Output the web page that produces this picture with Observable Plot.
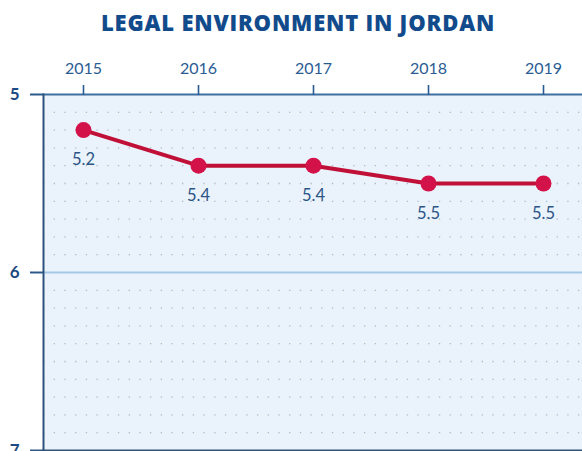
<!DOCTYPE html>
<html>
<head>
<meta charset="utf-8">
<script src="https://cdn.jsdelivr.net/npm/d3@7"></script>
<script src="https://cdn.jsdelivr.net/npm/@observablehq/plot@0.6"></script>
<style>
  html, body { margin: 0; padding: 0; background: #ffffff; }
  #title { height: 40px; font-family: "Open Sans", Lato, sans-serif; font-weight: 800; font-size: 22px; color: #124b8c; text-align: center; line-height: 44px; letter-spacing: 0.8px; padding-left: 14px; }
</style>
</head>
<body>
<div id="title">LEGAL ENVIRONMENT IN JORDAN</div>
<div id="chart"></div>
<script>
const years = [2015, 2016, 2017, 2018, 2019];
const scores = [5.2, 5.4, 5.4, 5.5, 5.5];
const yTicks = [5, 6, 7];
const dotGrid = [5.1, 5.2, 5.3, 5.4, 5.5, 5.6, 5.7, 5.8, 5.9, 6.1, 6.2, 6.3, 6.4, 6.5, 6.6, 6.7, 6.8, 6.9];

const data = years.map((y, i) => ({year: y, score: scores[i]}));

const chart = Plot.plot({
  width: 582,
  height: 411,
  marginLeft: 43,
  marginRight: 0,
  marginTop: 54,
  marginBottom: 1,
  style: {fontFamily: "Lato, 'Open Sans', sans-serif", background: "transparent"},
  x: {domain: [2015, 2019], range: [83, 543]},
  y: {domain: [5, 7], reverse: true},
  marks: [
    Plot.frame({fill: "#eaf2fb", stroke: null}),
    Plot.ruleY(dotGrid, {stroke: "#9aa9ba", strokeWidth: 1.3, strokeDasharray: "1.3,9.4", strokeOpacity: 0.75}),
    Plot.ruleY([6], {stroke: "#a6c8e6", strokeWidth: 2}),
    Plot.frame({anchor: "top", stroke: "#3f6e9f", strokeWidth: 2}),
    Plot.frame({anchor: "bottom", stroke: "#34557a", strokeWidth: 2}),
    Plot.frame({anchor: "left", stroke: "#2d527c", strokeWidth: 2}),
    Plot.axisX({anchor: "top", ticks: years, tickFormat: d => String(d), tickSize: 10, tickPadding: 11, fontSize: 16, color: "#2a5c93", stroke: "#2a5c93", strokeWidth: 1.6, label: null}),
    Plot.axisY({anchor: "left", ticks: yTicks, tickFormat: d => String(d), tickSize: 13, tickPadding: 11, fontSize: 17, fontWeight: "bold", color: "#1d4a80", stroke: "#2d5a8a", strokeWidth: 2, label: null}),
    Plot.line(data, {x: "year", y: "score", stroke: "#c01038", strokeWidth: 4}),
    Plot.dot(data, {x: "year", y: "score", r: 8, fill: "#d4124a", stroke: "none"}),
    Plot.text(data, {x: "year", y: "score", text: d => d.score.toFixed(1), dy: 30, fontSize: 16.5, fill: "#2b5585"})
  ]
});

document.getElementById("chart").appendChild(chart);
</script>
</body>
</html>
